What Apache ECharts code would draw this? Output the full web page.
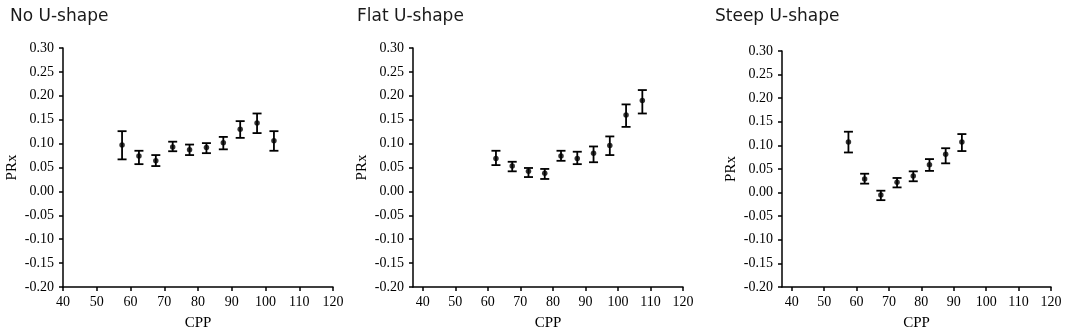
<!DOCTYPE html>
<html>
<head>
<meta charset="utf-8">
<style>
  html, body { margin: 0; padding: 0; background: #fff; }
  #chart { width: 1084px; height: 336px; }
</style>
<script src="https://cdn.jsdelivr.net/npm/echarts@6/dist/echarts.min.js"></script>
</head>
<body>
<div id="chart"></div>
<script>
// panel titles
const titles = ['No U-shape', 'Flat U-shape', 'Steep U-shape']

// x tick labels (CPP)
const cppTicks = [40, 50, 60, 70, 80, 90, 100, 110, 120]

// No U-shape
const cppNo = [57.5, 62.5, 67.5, 72.5, 77.5, 82.5, 87.5, 92.5, 97.5, 102.5]
const prxNo = [0.097, 0.074, 0.064, 0.093, 0.087, 0.092, 0.102, 0.130, 0.143, 0.106]
const lowNo = [0.067, 0.057, 0.053, 0.084, 0.076, 0.080, 0.088, 0.112, 0.122, 0.085]
const highNo = [0.126, 0.085, 0.076, 0.104, 0.098, 0.101, 0.114, 0.147, 0.163, 0.126]

// Flat U-shape
const cppFlat = [62.5, 67.5, 72.5, 77.5, 82.5, 87.5, 92.5, 97.5, 102.5, 107.5]
const prxFlat = [0.069, 0.053, 0.042, 0.038, 0.074, 0.069, 0.080, 0.096, 0.160, 0.190]
const lowFlat = [0.055, 0.042, 0.030, 0.026, 0.064, 0.057, 0.061, 0.076, 0.135, 0.163]
const highFlat = [0.085, 0.062, 0.049, 0.047, 0.085, 0.083, 0.094, 0.115, 0.182, 0.212]

// Steep U-shape
const cppSteep = [57.5, 62.5, 67.5, 72.5, 77.5, 82.5, 87.5, 92.5]
const prxSteep = [0.107, 0.029, -0.005, 0.022, 0.035, 0.059, 0.081, 0.107]
const lowSteep = [0.085, 0.019, -0.016, 0.011, 0.024, 0.046, 0.062, 0.088]
const highSteep = [0.129, 0.040, 0.004, 0.031, 0.045, 0.071, 0.094, 0.124]

const panels = [
  { cpp: cppNo, prx: prxNo, low: lowNo, high: highNo },
  { cpp: cppFlat, prx: prxFlat, low: lowFlat, high: highFlat },
  { cpp: cppSteep, prx: prxSteep, low: lowSteep, high: highSteep },
]

// grid boxes
const grids = [
  { left: 63, top: 48, width: 270, height: 239 },
  { left: 413, top: 48, width: 270, height: 239 },
  { left: 782, top: 51, width: 269, height: 240 },
]
const xMins = [40, 37, 37]
const titleLeft = [5, 352, 710]

const serif = 'Liberation Serif, Times New Roman, serif'
const ink = '#000'

let myChart = echarts.init(document.getElementById('chart'))

let xAxes = []
let yAxes = []
let series = []

panels.forEach(function (p, i) {
  xAxes.push({
    gridIndex: i,
    type: 'value',
    min: xMins[i],
    max: 120,
    name: 'CPP',
    nameLocation: 'middle',
    nameGap: 29,
    nameTextStyle: { fontFamily: serif, fontSize: 15, color: ink },
    axisLine: { onZero: false, lineStyle: { color: ink, width: 1.5 } },
    axisTick: { show: true, length: 4, customValues: cppTicks, lineStyle: { color: ink, width: 1.5 } },
    axisLabel: { customValues: cppTicks, margin: 8, fontFamily: serif, fontSize: 14, color: ink },
    splitLine: { show: false },
  })
  yAxes.push({
    gridIndex: i,
    type: 'value',
    min: -0.2,
    max: 0.3,
    interval: 0.05,
    name: 'PRx',
    nameLocation: 'middle',
    nameGap: 43,
    nameTextStyle: { fontFamily: serif, fontSize: 15, color: ink },
    axisLine: { show: true, onZero: false, lineStyle: { color: ink, width: 1.5 } },
    axisTick: { show: true, length: 4, lineStyle: { color: ink, width: 1.5 } },
    axisLabel: {
      margin: 9,
      fontFamily: serif,
      fontSize: 14,
      color: ink,
      formatter: function (v) { return v.toFixed(2) },
    },
    splitLine: { show: false },
  })

  // error bars
  series.push({
    type: 'custom',
    xAxisIndex: i,
    yAxisIndex: i,
    data: p.cpp.map(function (c, k) { return [c, p.low[k], p.high[k]] }),
    renderItem: function (params, api) {
      let lo = api.coord([api.value(0), api.value(1)])
      let hi = api.coord([api.value(0), api.value(2)])
      let hw = 4.5
      let style = { stroke: ink, lineWidth: 1.8 }
      return {
        type: 'group',
        children: [
          { type: 'line', shape: { x1: lo[0], y1: lo[1], x2: hi[0], y2: hi[1] }, style: style },
          { type: 'line', shape: { x1: lo[0] - hw, y1: lo[1], x2: lo[0] + hw, y2: lo[1] }, style: style },
          { type: 'line', shape: { x1: hi[0] - hw, y1: hi[1], x2: hi[0] + hw, y2: hi[1] }, style: style },
        ],
      }
    },
    silent: true,
    z: 2,
  })
  // means
  series.push({
    type: 'scatter',
    xAxisIndex: i,
    yAxisIndex: i,
    data: p.cpp.map(function (c, k) { return [c, p.prx[k]] }),
    symbol: 'circle',
    symbolSize: 5.5,
    itemStyle: { color: ink },
    silent: true,
    z: 3,
  })
})

myChart.setOption({
  animation: false,
  title: titles.map(function (t, i) {
    return {
      text: t,
      left: titleLeft[i],
      top: 3,
      textStyle: { fontFamily: 'DejaVu Sans, Verdana, sans-serif', fontSize: 17, fontWeight: 'normal', color: '#1a1a1a' },
    }
  }),
  grid: grids,
  xAxis: xAxes,
  yAxis: yAxes,
  series: series,
})
</script>
</body>
</html>
